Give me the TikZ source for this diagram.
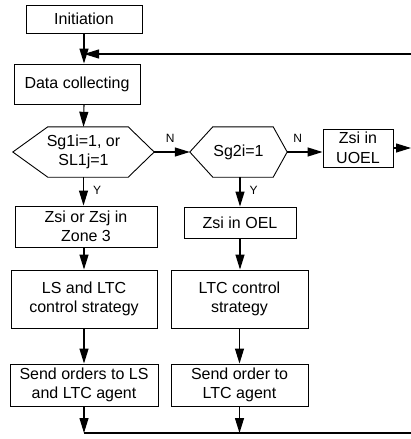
\documentclass[tikz,border=0pt]{standalone}
\usepackage{fontspec}
\setmainfont{Liberation Sans}
\usetikzlibrary{arrows.meta,calc}
\begin{document}
\begin{tikzpicture}[x=1pt,y=-1pt,
  every node/.style={font=\fontsize{16}{19.5}\selectfont, inner sep=0pt, align=center},
  box/.style={draw, line width=0.9pt},
  hexnode/.style={draw=none},
  lbl/.style={font=\fontsize{12}{14}\selectfont},
  arr/.style={line width=1.1pt, -{Triangle[length=15pt,width=9pt]}},
  line/.style={line width=1.3pt}]
\useasboundingbox (0,0) rectangle (411,439);
% boxes
\node[box, minimum width=116pt, minimum height=28pt] (init) at (84,19) {Initiation};
\node[box, minimum width=126pt, minimum height=40pt] (data) at (77,84) {Data collecting};
\node[hexnode, minimum width=141pt, minimum height=50pt] (h1) at (83.5,152) {Sg1i=1, or\\SL1j=1};
\node[hexnode, minimum width=97pt, minimum height=50pt] (h2) at (238.5,152) {Sg2i=1};
\draw[line width=0.9pt] (h1.west) -- ([xshift=35pt]h1.north west) -- ([xshift=-26pt]h1.north east) -- (h1.east) -- ([xshift=-26pt]h1.south east) -- ([xshift=35pt]h1.south west) -- cycle;
\draw[line width=0.9pt] (h2.west) -- ([xshift=23pt]h2.north west) -- ([xshift=-14pt]h2.north east) -- (h2.east) -- ([xshift=-14pt]h2.south east) -- ([xshift=23pt]h2.south west) -- cycle;
\node[box, minimum width=70pt, minimum height=38pt] (uoel) at (358,148) {Zsi in\\UOEL};
\node[box, minimum width=142pt, minimum height=41pt] (zone3) at (86,226.5) {Zsi or Zsj in\\Zone 3};
\node[box, minimum width=112pt, minimum height=31pt] (oel) at (240,222.5) {Zsi in OEL};
\node[box, minimum width=146pt, minimum height=58pt] (ls) at (84,299) {LS and LTC\\control strategy};
\node[box, minimum width=137pt, minimum height=58pt] (ltc) at (239.5,299) {LTC control\\strategy};
\node[box, minimum width=148pt, minimum height=42pt] (send1) at (84,385) {Send orders to LS\\and LTC agent};
\node[box, minimum width=137pt, minimum height=42pt] (send2) at (239.5,385) {Send order to\\LTC agent};
% free ends
\coordinate (fbR) at (411,54);
\coordinate (outR) at (411,148);
\coordinate (botR) at (411,433);
% connectors
\draw[arr] (init.south) -- (init.south |- data.north);
\draw[arr] (fbR) -- (fbR -| init.south);
\draw[arr] (data.south -| init.south) -- (h1.north);
\draw[arr] (h1.east) -- (h2.west) node[lbl, pos=0.45, above=9pt] {N};
\draw[arr] (h2.east) -- (uoel.west |- h2.east) node[lbl, pos=0.3, above=9pt] {N};
\draw[arr] (uoel.east) -- (uoel.east -| outR);
\draw[arr] (h1.south) -- (h1.south |- zone3.north) node[lbl, pos=0.45, right=9pt] {Y};
\draw[arr] (oel.north |- h2.south) -- (oel.north) node[lbl, pos=0.45, right=9pt] {Y};
\draw[arr] (ls.north |- zone3.south) -- (ls.north);
\draw[arr] (oel.south) -- (oel.south |- ltc.north);
\draw[arr] (ls.south) -- (send1.north);
\draw[arr] (ltc.south) -- (send2.north);
\draw[arr] (send1.south) -- (send1.south |- botR);
\draw[arr] (send2.south) -- (send2.south |- botR);
\draw[line] (send1.south |- botR) -- (botR);
\end{tikzpicture}
\end{document}
